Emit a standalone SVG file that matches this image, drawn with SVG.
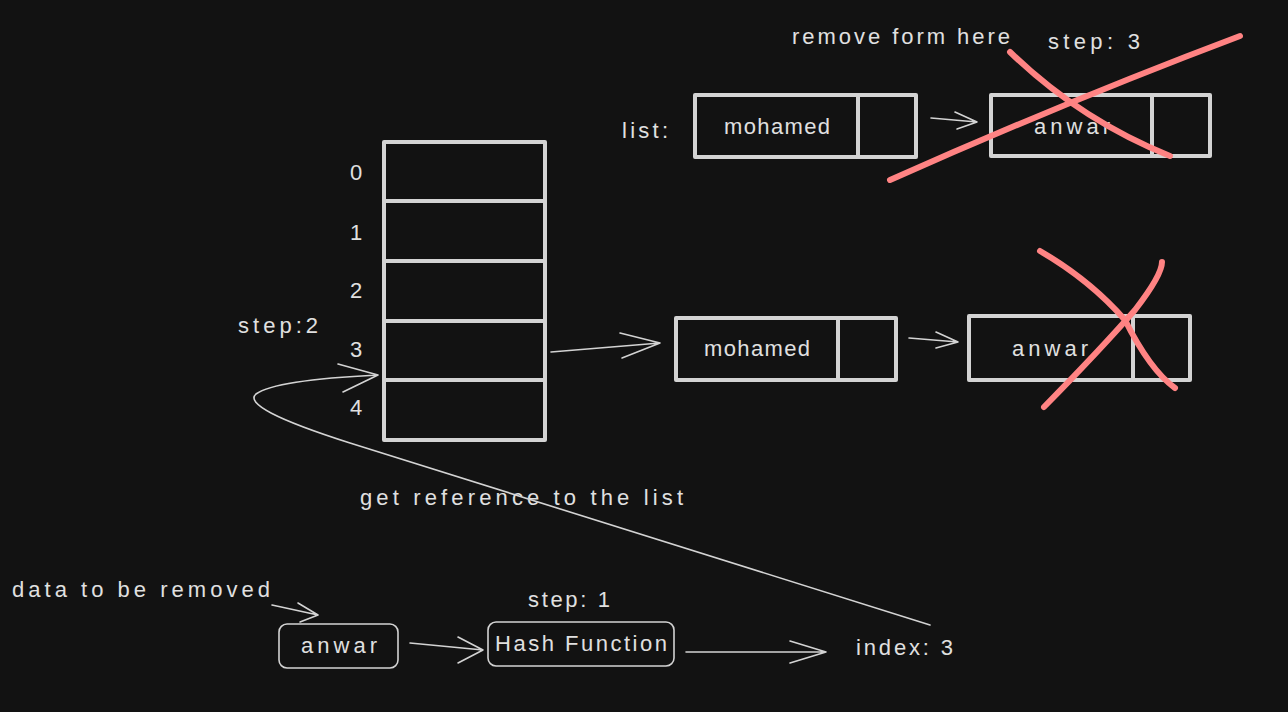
<svg xmlns="http://www.w3.org/2000/svg" width="1288" height="712" viewBox="0 0 1288 712">
<style>
.bg{fill:#121212}
.box{fill:none;stroke:#d3d3d3;stroke-width:4;stroke-linejoin:round;stroke-linecap:round}
.rbox{fill:none;stroke:#d3d3d3;stroke-width:1.6}
.ln{fill:none;stroke:#d3d3d3;stroke-width:1.6;stroke-linecap:round;stroke-linejoin:round}
.x{fill:none;stroke:#ff8383;stroke-width:6;stroke-linecap:round}
.t{font-family:"Liberation Sans",Arial,sans-serif;font-size:22px;fill:#e0e0e0}
.c{text-anchor:middle}
</style>
<rect class="bg" width="1288" height="712"/>

<g id="hash-table">
  <rect class="box" x="384" y="142" width="161" height="298"/>
  <line class="box" x1="384" y1="201" x2="545" y2="201"/>
  <line class="box" x1="384" y1="261" x2="545" y2="261"/>
  <line class="box" x1="384" y1="321" x2="545" y2="321"/>
  <line class="box" x1="384" y1="380" x2="545" y2="380"/>
  <text class="t c" x="356" y="180">0</text>
  <text class="t c" x="356" y="240">1</text>
  <text class="t c" x="356" y="298">2</text>
  <text class="t c" x="356" y="357">3</text>
  <text class="t c" x="356" y="415">4</text>
</g>

<g id="label-step2"><text class="t" x="238" y="333" textLength="80">step:2</text></g>

<g id="list-top">
  <text class="t" x="622" y="138" textLength="46">list:</text>
  <rect class="box" x="695" y="95" width="221" height="62"/>
  <line class="box" x1="858" y1="95" x2="858" y2="157"/>
  <text class="t c" x="777" y="134" textLength="106">mohamed</text>
  <rect class="box" x="991" y="95" width="219" height="61"/>
  <line class="box" x1="1152" y1="95" x2="1152" y2="156"/>
  <text class="t c" x="1072" y="134" textLength="76">anwar</text>
</g>

<g id="list-mid">
  <rect class="box" x="676" y="318" width="220" height="62"/>
  <line class="box" x1="838" y1="318" x2="838" y2="380"/>
  <text class="t c" x="757" y="356" textLength="106">mohamed</text>
  <rect class="box" x="969" y="316" width="221" height="64"/>
  <line class="box" x1="1133" y1="316" x2="1133" y2="380"/>
  <text class="t c" x="1050" y="356" textLength="76">anwar</text>
</g>

<g id="crosses">
  <path class="x" d="M890 180 Q1070 100 1240 36"/>
  <path class="x" d="M1010 52 Q1080 120 1170 156"/>
  <path class="x" d="M1044 407 Q1100 350 1135 310 Q1162 275 1162 262"/>
  <path class="x" d="M1040 251 Q1090 280 1125 320 Q1150 370 1175 388"/>
</g>

<g id="labels">
  <text class="t" x="792" y="44" textLength="218">remove form here</text>
  <text class="t" x="1048" y="49" textLength="92">step: 3</text>
  <text class="t" x="360" y="505" textLength="323">get reference to the list</text>
  <text class="t" x="12" y="597" textLength="258">data to be removed</text>
  <text class="t" x="528" y="607" textLength="82">step: 1</text>
  <text class="t" x="856" y="655" textLength="97">index: 3</text>
</g>

<g id="anwar-input">
  <rect class="rbox" x="279" y="624" width="119" height="44" rx="8"/>
  <text class="t c" x="339" y="653" textLength="76">anwar</text>
</g>

<g id="hash-function">
  <rect class="rbox" x="488" y="622" width="186" height="44" rx="8"/>
  <text class="t c" x="581" y="651" textLength="172">Hash Function</text>
</g>

<g id="connectors">
  <path class="ln" d="M931 118 L977 122 M955 112 L977 122 L957 129"/>
  <path class="ln" d="M909 338 L958 342 M936 332 L958 342 L936 348"/>
  <path class="ln" d="M551 352 L660 343 M620 333 L660 343 L622 358"/>
  <path class="ln" d="M930 625 L350 443 Q240 408 256 394 Q275 380 378 375 M338 364 L378 375 L343 392"/>
  <path class="ln" d="M272 605 L318 615 M298 603 L318 615 L300 622"/>
  <path class="ln" d="M410 643 L483 650 M458 637 L483 650 L458 663"/>
  <path class="ln" d="M686 652 L826 652 M790 641 L826 652 L790 663"/>
</g>
</svg>
